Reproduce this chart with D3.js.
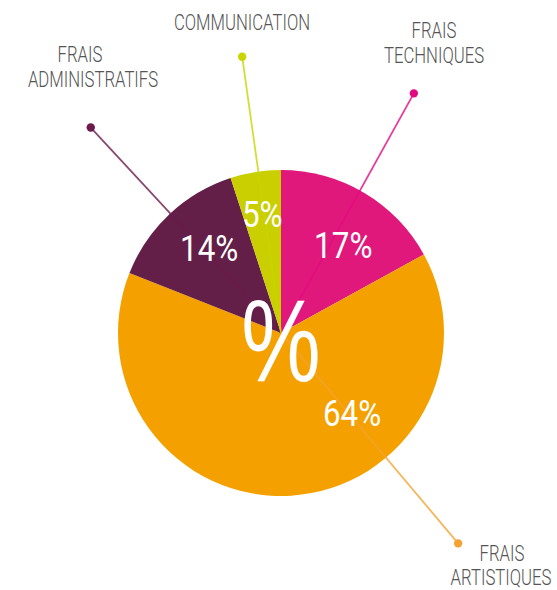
<!DOCTYPE html>
<html><head><meta charset="utf-8">
<script src="https://cdn.jsdelivr.net/npm/d3@7"></script>
<style>body{margin:0;background:#fff}svg{display:block}</style>
</head><body>
<svg id="c" width="557" height="590"></svg>
<script>
const categories = ["FRAIS TECHNIQUES", "FRAIS ARTISTIQUES", "FRAIS ADMINISTRATIFS", "COMMUNICATION"];
const values = [17, 64, 14, 5];
const colors = ["#e1187b", "#f4a100", "#631f47", "#c9cf00"];
const lineColors = ["#e20a80", "#f4a232", "#6b1a4b", "#c9d400"];
const labelLines = [["FRAIS", "TECHNIQUES"], ["FRAIS", "ARTISTIQUES"], ["FRAIS", "ADMINISTRATIFS"], ["COMMUNICATION"]];
// callout dots: angle (deg, clockwise from top) and distance from centre
const calloutAngle = [29.0, 139.9, 317.2, 352.0];
const calloutDist = [274, 275, 280, 279];
// percentage labels: angle and distance from centre
const pctAngle = [35.2, 138.4, 319.7, 351.0];
const pctDist = [108, 107, 111, 120];

const W = 557, H = 590, cx = 281, cy = 333, R = 163;
const font = "Roboto, 'Liberation Sans', sans-serif";
const svg = d3.select("#c");
const g = svg.append("g").attr("transform", `translate(${cx},${cy})`);

const pie = d3.pie().sort(null).value(d => d)(values);
const arc = d3.arc().innerRadius(0).outerRadius(R);

g.selectAll("path.slice").data(pie).join("path")
  .attr("class", "slice").attr("d", arc).attr("fill", (d, i) => colors[i]);

const rad = a => a * Math.PI / 180;
const pt = (a, r) => [Math.sin(rad(a)) * r, -Math.cos(rad(a)) * r];

categories.forEach((c, i) => {
  const [x, y] = pt(calloutAngle[i], calloutDist[i]);
  g.append("line").attr("x1", 0).attr("y1", 0).attr("x2", x).attr("y2", y)
    .attr("stroke", lineColors[i]).attr("stroke-width", 1.8).attr("stroke-opacity", 0.8);
  g.append("circle").attr("cx", x).attr("cy", y).attr("r", 4.2).attr("fill", lineColors[i]);
});

function stext(parent, x, y, size, sx, fill, str, weight, fam) {
  return parent.append("text")
    .attr("transform", `translate(${x},${y}) scale(${sx},1)`)
    .attr("text-anchor", "middle").attr("font-family", fam || font)
    .attr("font-weight", weight).attr("font-size", size).attr("fill", fill).text(str);
}

// category labels: per-line [x, baseline y]
const labelPos = [[[434, 38], [434, 63]], [[502, 561], [501, 585]], [[80, 62], [93, 87]], [[242, 30]]];
categories.forEach((c, i) => {
  labelLines[i].forEach((l, j) => {
    stext(svg, labelPos[i][j][0], labelPos[i][j][1], 22, 0.76, "#555555", l, 300);
  });
});

pie.forEach((d, i) => {
  const [x, y] = pt(pctAngle[i], pctDist[i]);
  stext(g, x, y + 13, 36.5, 0.86, "#fff", d.value + "%", 400);
});

stext(g, 0, 48, 116, 0.77, "#fff", "%", 400, "'Liberation Sans', Arial, sans-serif");
</script>
</body></html>
